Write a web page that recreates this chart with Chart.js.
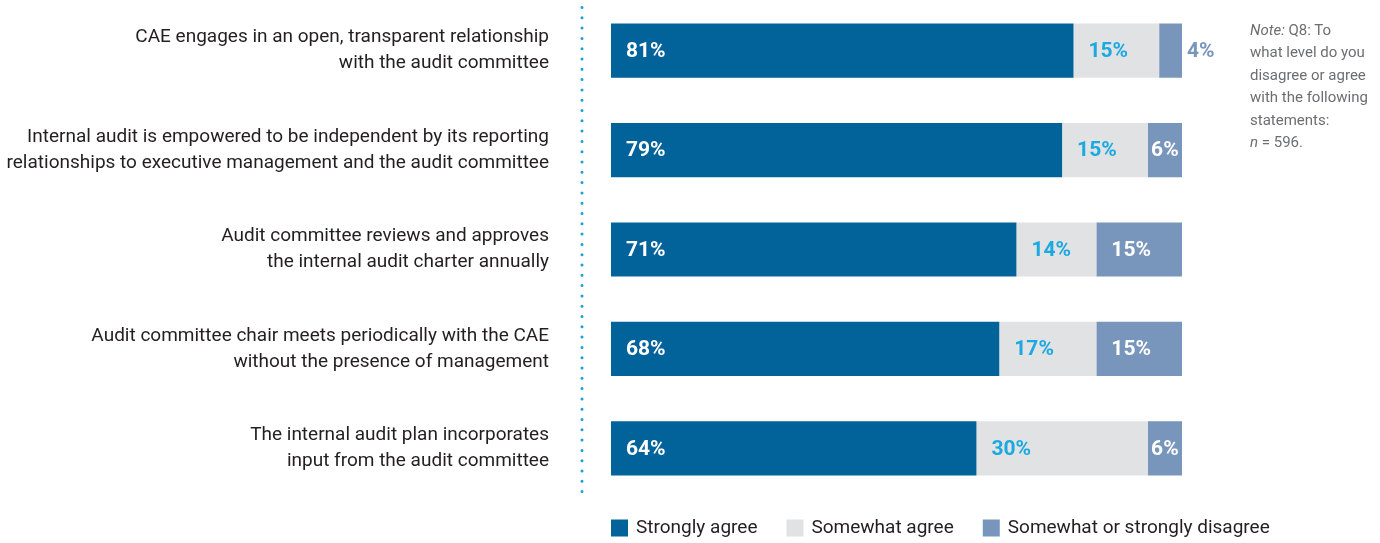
<!DOCTYPE html>
<html lang="en">
<head>
  <meta charset="UTF-8" />
  <title>Audit committee relationship</title>
  <script src="https://cdn.jsdelivr.net/npm/chart.js"></script>
  <style>
    body {
      margin: 0;
      background: #ffffff;
      font-family: 'Roboto', sans-serif;
    }

    .wrap {
      position: relative;
      width: 1380px;
      height: 543px;
    }

    .note {
      position: absolute;
      left: 1250px;
      top: 19px;
      font-size: 15px;
      line-height: 22.4px;
      color: #6d6e71;
      white-space: nowrap;
    }
  </style>
</head>
<body>

  <div class="wrap">
    <canvas id="chart"></canvas>
    <div class="note"><i>Note:</i> Q8: To<br>what level do you<br>disagree or agree<br>with the following<br>statements:<br><i>n</i> = 596.</div>
  </div>

  <script>
    const categories = [
      ['CAE engages in an open, transparent relationship', 'with the audit committee'],
      ['Internal audit is empowered to be independent by its reporting', 'relationships to executive management and the audit committee'],
      ['Audit committee reviews and approves', 'the internal audit charter annually'],
      ['Audit committee chair meets periodically with the CAE', 'without the presence of management'],
      ['The internal audit plan incorporates', 'input from the audit committee']
    ];
    const seriesNames = ['Strongly agree', 'Somewhat agree', 'Somewhat or strongly disagree'];
    const stronglyAgree = [81, 79, 71, 68, 64];
    const somewhatAgree = [15, 15, 14, 17, 30];
    const disagree = [4, 6, 15, 15, 6];

    const colors = ['#02629a', '#e1e2e3', '#7895bb'];
    const labelColors = ['#ffffff', '#1ba9e1', '#ffffff'];
    const outsideColor = '#7895bb';
    const font = "'Roboto', sans-serif";

    // dotted divider between the statements and the bars
    const dottedLine = {
      id: 'dottedLine',
      beforeDatasetsDraw(chart) {
        const ctx = chart.ctx;
        ctx.save();
        ctx.strokeStyle = '#1a9fdb';
        ctx.lineWidth = 3;
        ctx.lineCap = 'round';
        ctx.setLineDash([0, 10.3]);
        ctx.beginPath();
        ctx.moveTo(582, 7.5);
        ctx.lineTo(582, 499);
        ctx.stroke();
        ctx.restore();
      }
    };

    // percentage labels inside / beside each segment
    const valueLabels = {
      id: 'valueLabels',
      afterDatasetsDraw(chart) {
        const ctx = chart.ctx;
        ctx.save();
        ctx.font = 'bold 21px ' + font;
        ctx.textBaseline = 'middle';
        chart.data.datasets.forEach((ds, i) => {
          chart.getDatasetMeta(i).data.forEach((bar, j) => {
            const text = ds.data[j] + '%';
            const left = Math.min(bar.base, bar.x);
            const w = Math.abs(bar.x - bar.base);
            const tw = ctx.measureText(text).width;
            if (w >= tw + 30) {
              ctx.fillStyle = labelColors[i];
              ctx.textAlign = 'left';
              ctx.fillText(text, left + 15, bar.y + 1);
            } else if (w >= tw + 2) {
              ctx.fillStyle = labelColors[i];
              ctx.textAlign = 'center';
              ctx.fillText(text, left + w / 2, bar.y + 1);
            } else {
              ctx.fillStyle = outsideColor;
              ctx.textAlign = 'left';
              ctx.fillText(text, left + w + 5, bar.y + 1);
            }
          });
        });
        ctx.restore();
      }
    };

    // legend lined up with the left edge of the bars
    const bottomLegend = {
      id: 'bottomLegend',
      afterDraw(chart) {
        const ctx = chart.ctx;
        ctx.save();
        ctx.font = '19px ' + font;
        ctx.textBaseline = 'middle';
        ctx.textAlign = 'left';
        let x = chart.chartArea.left;
        const y = 528;
        chart.data.datasets.forEach(ds => {
          ctx.fillStyle = ds.backgroundColor;
          ctx.fillRect(x, y - 8.5, 17, 17);
          ctx.fillStyle = '#231f20';
          ctx.fillText(ds.label, x + 25, y);
          x += 25 + ctx.measureText(ds.label).width + 29;
        });
        ctx.restore();
      }
    };

    const ctx = document.getElementById('chart').getContext('2d');
    new Chart(ctx, {
      type: 'bar',
      data: {
        labels: categories,
        datasets: [stronglyAgree, somewhatAgree, disagree].map((values, i) => ({
          label: seriesNames[i],
          data: values,
          backgroundColor: colors[i],
          borderWidth: 0,
          categoryPercentage: 1,
          barPercentage: 0.545
        }))
      },
      options: {
        indexAxis: 'y',
        responsive: true,
        maintainAspectRatio: false,
        animation: false,
        layout: {
          padding: { top: 1, right: 198, bottom: 45, left: 0 }
        },
        scales: {
          x: {
            stacked: true,
            display: false,
            min: 0,
            max: 100
          },
          y: {
            stacked: true,
            grid: { display: false, drawTicks: false },
            border: { display: false },
            ticks: {
              padding: 62,
              color: '#231f20',
              font: { family: font, size: 19, lineHeight: 1.37 }
            },
            afterFit(scale) {
              scale.width = 611;
              scale.paddingTop = 0;
              scale.paddingBottom = 0;
            }
          }
        },
        plugins: {
          legend: { display: false },
          tooltip: { enabled: false }
        }
      },
      plugins: [dottedLine, valueLabels, bottomLegend]
    });
  </script>

</body>
</html>
